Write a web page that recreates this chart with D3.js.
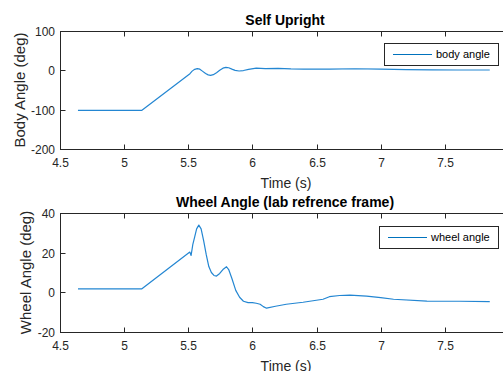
<!DOCTYPE html>
<html>
<head>
<meta charset="utf-8">
<script src="https://cdn.jsdelivr.net/npm/d3@7"></script>
<style>
  body { margin: 0; background: #fff; }
  text { font-family: "Liberation Sans", Arial, sans-serif; }
</style>
</head>
<body>
<div id="chart"></div>
<script>
// body angle (deg) vs time (s)
const bodyTime  = [4.64, 5.136, 5.513, 5.53, 5.55, 5.57, 5.59, 5.61, 5.635, 5.655, 5.674, 5.695, 5.72, 5.745, 5.77, 5.793, 5.815, 5.84, 5.865, 5.896, 5.93, 5.97, 6.03, 6.10, 6.20, 6.30, 6.40, 6.60, 6.80, 7.00, 7.20, 7.40, 7.60, 7.85];
const bodyAngle = [-102, -102, -8.5, -2, 2.5, 4.3, 3, -2, -8, -11.5, -12.7, -11, -6, 0, 5.5, 7.6, 6.5, 3, 0, -1.7, -0.5, 2.5, 5.5, 4.5, 5, 3.5, 3, 3, 4, 3, 2, 1, 0.8, 0.8];

// wheel angle (deg) vs time (s)
const wheelTime  = [4.64, 5.136, 5.512, 5.522, 5.535, 5.55, 5.565, 5.582, 5.60, 5.62, 5.64, 5.66, 5.68, 5.70, 5.72, 5.745, 5.77, 5.798, 5.815, 5.84, 5.87, 5.90, 5.93, 5.966, 6.00, 6.03, 6.06, 6.085, 6.11, 6.18, 6.264, 6.395, 6.55, 6.60, 6.68, 6.76, 6.89, 7.00, 7.10, 7.36, 7.615, 7.85];
const wheelAngle = [1.7, 1.7, 20.3, 18.6, 24, 28, 32, 33.9, 32, 26, 19, 13, 10, 8.5, 8.2, 9.5, 11.5, 12.9, 11.5, 7, 1, -2.5, -4.5, -5.2, -5.2, -5.5, -6, -7.2, -8, -7, -6, -5, -3.5, -2.2, -1.6, -1.4, -1.9, -2.7, -3.5, -4.4, -4.5, -4.7];

const xTicks = [4.5, 5, 5.5, 6, 6.5, 7, 7.5];
const bodyTicks = [-200, -100, 0, 100];
const wheelTicks = [-20, 0, 20, 40];

const W = 503, H = 371;
const ink = '#262626';
const lineColor = '#2386d2';

const svg = d3.select('#chart').append('svg')
  .attr('width', W)
  .attr('height', H);

const x = d3.scaleLinear().domain([4.5, 8]).range([60, 509]);

function drawPanel(opts) {
  const y = d3.scaleLinear().domain(opts.domain).range([opts.bottom, opts.top]);
  const g = svg.append('g');

  // box (right edge runs off the page)
  g.append('rect')
    .attr('x', x.range()[0] + 0.5)
    .attr('y', opts.top + 0.5)
    .attr('width', x.range()[1] - x.range()[0])
    .attr('height', opts.bottom - opts.top)
    .attr('fill', 'none')
    .attr('stroke', ink)
    .attr('stroke-width', 1);

  // x ticks bottom and top
  xTicks.forEach(function (t) {
    const px = Math.round(x(t)) + 0.5;
    g.append('line').attr('x1', px).attr('x2', px)
      .attr('y1', opts.bottom + 0.5).attr('y2', opts.bottom - 4.5)
      .attr('stroke', ink);
    g.append('line').attr('x1', px).attr('x2', px)
      .attr('y1', opts.top + 0.5).attr('y2', opts.top + 5.5)
      .attr('stroke', ink);
    g.append('text')
      .attr('x', px)
      .attr('y', opts.bottom + 18)
      .attr('text-anchor', 'middle')
      .attr('font-size', '12px')
      .attr('fill', ink)
      .text(t);
  });

  // y ticks
  opts.yTicks.forEach(function (v) {
    const py = Math.round(y(v)) + 0.5;
    g.append('line').attr('x1', x.range()[0] + 0.5).attr('x2', x.range()[0] + 5.5)
      .attr('y1', py).attr('y2', py)
      .attr('stroke', ink);
    g.append('text')
      .attr('x', x.range()[0] - 5)
      .attr('y', py)
      .attr('dy', '0.35em')
      .attr('text-anchor', 'end')
      .attr('font-size', '12px')
      .attr('fill', ink)
      .text(v);
  });

  // data line
  const line = d3.line()
    .x(function (d, i) { return x(opts.times[i]); })
    .y(function (d) { return y(d); })
    .curve(d3.curveLinear);
  g.append('path')
    .datum(opts.values)
    .attr('d', line)
    .attr('fill', 'none')
    .attr('stroke', lineColor)
    .attr('stroke-width', 1.2)
    .attr('stroke-linejoin', 'round');

  // title
  g.append('text')
    .attr('x', 285)
    .attr('y', opts.top - 6)
    .attr('text-anchor', 'middle')
    .attr('font-size', '14px')
    .attr('font-weight', 'bold')
    .attr('fill', '#000')
    .text(opts.title);

  // x label
  g.append('text')
    .attr('x', 286)
    .attr('y', opts.bottom + 39)
    .attr('text-anchor', 'middle')
    .attr('font-size', '14px')
    .attr('fill', ink)
    .text('Time (s)');

  // y label
  g.append('text')
    .attr('transform', 'translate(' + opts.ylabelX + ',' + ((opts.top + opts.bottom) / 2) + ') rotate(-90)')
    .attr('text-anchor', 'middle')
    .attr('font-size', '15px')
    .attr('fill', ink)
    .text(opts.ylabel);

  // legend
  const lg = g.append('g');
  lg.append('rect')
    .attr('x', opts.legend.x + 0.5)
    .attr('y', opts.legend.y + 0.5)
    .attr('width', opts.legend.w)
    .attr('height', 22)
    .attr('fill', '#fff')
    .attr('stroke', ink)
    .attr('stroke-width', 1);
  lg.append('line')
    .attr('x1', opts.legend.x + 9).attr('x2', opts.legend.x + 48)
    .attr('y1', opts.legend.y + 11.5).attr('y2', opts.legend.y + 11.5)
    .attr('stroke', '#0072BD');
  lg.append('text')
    .attr('x', opts.legend.x + 52)
    .attr('y', opts.legend.y + 11.5)
    .attr('dy', '0.35em')
    .attr('font-size', '11px')
    .attr('fill', '#000')
    .text(opts.legendLabel);
}

drawPanel({
  top: 31, bottom: 149,
  domain: [-200, 100], yTicks: bodyTicks,
  times: bodyTime, values: bodyAngle,
  title: 'Self Upright', ylabel: 'Body Angle (deg)', ylabelX: 25,
  legend: { x: 384, y: 43, w: 114 }, legendLabel: 'body angle'
});

drawPanel({
  top: 213, bottom: 332,
  domain: [-20, 40], yTicks: wheelTicks,
  times: wheelTime, values: wheelAngle,
  title: 'Wheel Angle (lab refrence frame)', ylabel: 'Wheel Angle (deg)', ylabelX: 31,
  legend: { x: 379, y: 226, w: 119 }, legendLabel: 'wheel angle'
});
</script>
</body>
</html>
